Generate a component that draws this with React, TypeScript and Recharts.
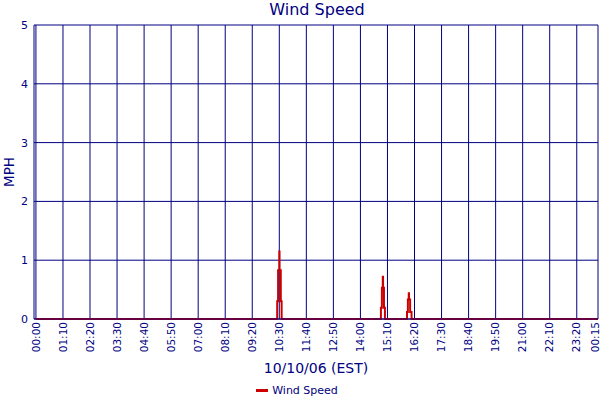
import { LineChart, Line, XAxis, YAxis, CartesianGrid, Legend } from "recharts";

// minutes since 00:00 and wind speed (mph) at that moment
const TIMES = [
  0, 624.5, 624.6, 626.8, 626.9, 630, 630.1, 630.6, 630.7, 633.8, 633.9, 636, 636.1,
  893, 893.1, 895.5, 895.6, 897.8, 897.9, 898.6, 898.7, 900.9, 901, 903.4, 903.5,
  960.5, 960.6, 962.8, 962.9, 965, 965.1, 965.8, 965.9, 968.6, 968.7, 972.3, 972.4,
  1455,
];
const SPEEDS = [
  0, 0, 0.3, 0.3, 0.83, 0.83, 1.15, 1.15, 0.83, 0.83, 0.3, 0.3, 0,
  0, 0.19, 0.19, 0.53, 0.53, 0.72, 0.72, 0.53, 0.53, 0.19, 0.19, 0,
  0, 0.12, 0.12, 0.33, 0.33, 0.44, 0.44, 0.33, 0.33, 0.12, 0.12, 0,
  0,
];
const X_TICKS = [0, 70, 140, 210, 280, 350, 420, 490, 560, 630, 700, 770, 840, 910, 980, 1050, 1120, 1190, 1260, 1330, 1400, 1455];
const Y_TICKS = [0, 1, 2, 3, 4, 5];

const data = TIMES.map((t, i) => ({ t, mph: SPEEDS[i] }));

const NAVY = "#000080";
const RED = "#cc0000";
const FONT = "DejaVu Sans, Verdana, sans-serif";

const fmtTime = (m: number) => {
  const mm = m % 1440;
  const h = Math.floor(mm / 60);
  const min = mm % 60;
  return `${String(h).padStart(2, "0")}:${String(min).padStart(2, "0")}`;
};

const TimeTick = ({ x, y, payload }: any) => {
  // last label sits against the right edge, nudge it inside
  const tx = Math.min(x, 595);
  return (
    <text
      transform={`translate(${tx},${y}) rotate(-90)`}
      textAnchor="end"
      dy="0.35em"
      fill={NAVY}
      fontSize={10.5}
      fontFamily={FONT}
    >
      {fmtTime(payload.value)}
    </text>
  );
};

const MphLabel = () => (
  <text
    x={9}
    y={172}
    transform="rotate(-90 9 172)"
    textAnchor="middle"
    dominantBaseline="central"
    fill={NAVY}
    fontSize={13.5}
    fontFamily={FONT}
  >
    MPH
  </text>
);

const LegendContent = () => (
  <div style={{ display: "flex", justifyContent: "center", alignItems: "center", fontFamily: FONT, fontSize: 11, color: NAVY, marginTop: 4, marginLeft: -4 }}>
    <span style={{ display: "inline-block", width: 12, height: 3, background: RED, marginRight: 4 }} />
    <span>Wind Speed</span>
  </div>
);

export default function App() {
  return (
    <div style={{ position: "absolute", left: 0, top: 0, width: 600, height: 400, background: "#fff" }}>
      <div style={{ position: "absolute", left: 0, top: 0, width: 634, textAlign: "center", fontFamily: FONT, fontSize: 16, color: NAVY, lineHeight: "20px" }}>
        Wind Speed
      </div>
      <LineChart width={600} height={400} data={data} margin={{ top: 25, right: 2, bottom: 0, left: 0 }}>
        <CartesianGrid stroke={NAVY} strokeWidth={1} horizontalValues={Y_TICKS} verticalValues={X_TICKS} />
        <XAxis
          dataKey="t"
          type="number"
          domain={[-5, 1455]}
          ticks={X_TICKS}
          interval={0}
          height={61}
          tickLine={false}
          tickSize={0}
          tickMargin={3}
          axisLine={{ stroke: NAVY }}
          tick={<TimeTick />}
          label={{ value: "10/10/06 (EST)", position: "insideBottom", offset: 7, fill: NAVY, fontSize: 14, fontFamily: FONT }}
        />
        <YAxis
          type="number"
          domain={[0, 5]}
          ticks={Y_TICKS}
          width={34}
          tickLine={false}
          tickSize={4}
          axisLine={{ stroke: NAVY }}
          tick={{ fill: NAVY, fontSize: 11, fontFamily: FONT }}
          label={<MphLabel />}
        />
        <Legend verticalAlign="bottom" height={20} content={<LegendContent />} />
        <Line
          type="linear"
          dataKey="mph"
          name="Wind Speed"
          stroke={RED}
          strokeWidth={2}
          dot={false}
          activeDot={false}
          isAnimationActive={false}
        />
      </LineChart>
    </div>
  );
}
